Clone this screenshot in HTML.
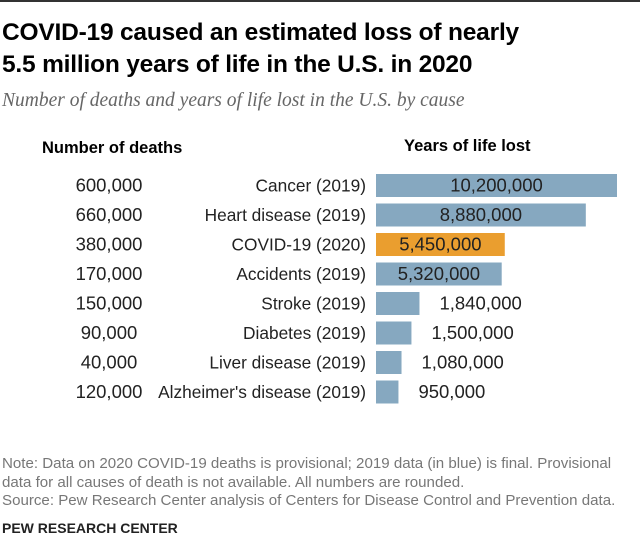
<!DOCTYPE html>
<html><head><meta charset="utf-8"><style>
body{margin:0;background:#fff;font-family:"Liberation Sans",Arial,sans-serif;}
#wrap{position:relative;width:640px;height:541px;overflow:hidden;border-top:2px solid #333;box-sizing:border-box}
.t{position:absolute;white-space:nowrap}
</style></head><body>
<div id="wrap">
<div class="t" style="left:2px;top:15px;font-size:24.5px;font-weight:bold;line-height:32px;color:#000;letter-spacing:-0.2px">COVID-19 caused an estimated loss of nearly<br>5.5 million years of life in the U.S. in 2020</div>
<div class="t" style="left:2px;top:88px;font-family:'Liberation Serif',serif;font-style:italic;font-size:19.5px;color:#666">Number of deaths and years of life lost in the U.S. by cause</div>
<div class="t" style="left:42px;top:137px;font-size:16.5px;font-weight:bold">Number of deaths</div>
<div class="t" style="left:404px;top:135px;font-size:16.5px;font-weight:bold">Years of life lost</div>
<svg id="svg" width="640" height="541" style="position:absolute;left:0;top:0"></svg>
<div class="t" style="left:2px;top:453px;font-size:15.1px;line-height:18.5px;color:#777">Note: Data on 2020 COVID-19 deaths is provisional; 2019 data (in blue) is final. Provisional<br>data for all causes of death is not available. All numbers are rounded.<br>Source: Pew Research Center analysis of Centers for Disease Control and Prevention data.</div>
<div class="t" style="left:2px;top:518px;font-size:14px;font-weight:bold;color:#222">PEW RESEARCH CENTER</div>
</div>
<script>
const causes=["Cancer (2019)","Heart disease (2019)","COVID-19 (2020)","Accidents (2019)","Stroke (2019)","Diabetes (2019)","Liver disease (2019)","Alzheimer's disease (2019)"];
const deaths=[600000,660000,380000,170000,150000,90000,40000,120000];
const yll=[10200000,8880000,5450000,5320000,1840000,1500000,1080000,950000];
const ns="http://www.w3.org/2000/svg",svg=document.getElementById('svg');
const x0=376,pxPer=241/10200000,y0=172,pitch=29.5,bh=23;
const xs=v=>v*pxPer, ys=i=>y0+i*pitch;
const fmt=v=>v.toLocaleString('en-US');
function mk(tag,a,txt){const e=document.createElementNS(ns,tag);for(const k in a)e.setAttribute(k,a[k]);if(txt!=null)e.textContent=txt;svg.appendChild(e);return e;}
causes.forEach((c,i)=>{
 const y=ys(i),w=xs(yll[i]),cy=y+bh/2+6;
 const r=mk('rect',{x:x0,y:y,width:w,height:bh,fill:i==2?'#EA9E2F':'#86A8C0'});
 
 
 const inside=w>100;
 const t=mk('text',{x:inside?x0+w/2:x0+w+20,y:cy,'font-size':18.5,'text-anchor':inside?'middle':'start',fill:'#222','font-family':'Liberation Sans'},fmt(yll[i]));
 
 
 const l=mk('text',{x:366,y:cy,'font-size':17.3,'text-anchor':'end',fill:'#222','font-family':'Liberation Sans'},c);
 
 
 const d=mk('text',{x:109,y:cy,'font-size':18.5,'text-anchor':'middle',fill:'#222','font-family':'Liberation Sans'},fmt(deaths[i]));
 
 
});
</script>
</body></html>
